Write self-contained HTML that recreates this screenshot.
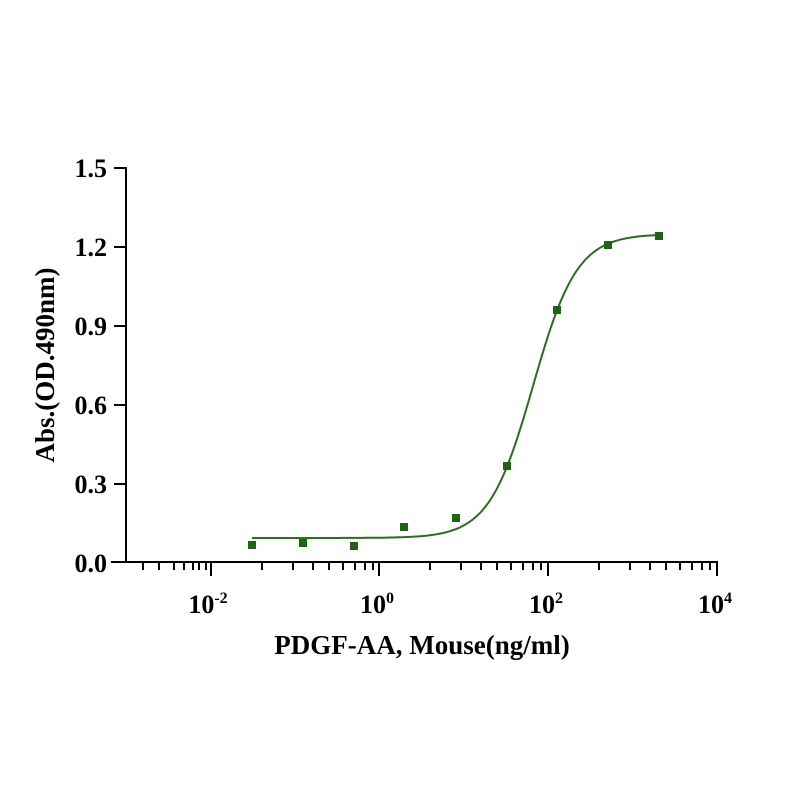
<!DOCTYPE html>
<html><head><meta charset="utf-8"><style>body{margin:0;background:#fff}</style></head>
<body>
<svg id="s" width="801" height="801" xmlns="http://www.w3.org/2000/svg" font-family="Liberation Serif, serif" font-weight="bold">
<g stroke="#000" stroke-width="2">
<line x1="126" y1="167" x2="126" y2="563"/>
<line x1="111" y1="562" x2="718" y2="562"/>
<line x1="114" y1="168" x2="126" y2="168"/>
<line x1="114" y1="247" x2="126" y2="247"/>
<line x1="114" y1="326" x2="126" y2="326"/>
<line x1="114" y1="405" x2="126" y2="405"/>
<line x1="114" y1="484" x2="126" y2="484"/>
</g>
<g id="ticks" stroke="#000" stroke-width="2"></g>
<g font-size="26" text-anchor="end">
<text x="107" y="177">1.5</text>
<text x="107" y="256">1.2</text>
<text x="107" y="335">0.9</text>
<text x="107" y="414">0.6</text>
<text x="107" y="493">0.3</text>
<text x="107" y="572">0.0</text>
</g>
<g font-size="26" text-anchor="middle">
<text x="208" y="613">10<tspan font-size="16" dy="-10">-2</tspan></text>
<text x="377" y="613">10<tspan font-size="16" dy="-10">0</tspan></text>
<text x="546" y="613">10<tspan font-size="16" dy="-10">2</tspan></text>
<text x="715" y="613">10<tspan font-size="16" dy="-10">4</tspan></text>
</g>
<text x="422" y="654" font-size="27" text-anchor="middle">PDGF-AA, Mouse(ng/ml)</text>
<text transform="translate(54,365) rotate(-90)" font-size="27" text-anchor="middle">Abs.(OD.490nm)</text>
<path id="c" fill="none" stroke="#2a6e1e" stroke-width="2"/>
<g fill="#1e6414" id="pts"></g>
</svg>
<script>
var t=document.getElementById('ticks'),h='';
var majors=[211,379,548,717];
majors.forEach(function(x){h+='<line x1="'+x+'" y1="562" x2="'+x+'" y2="576"/>';});
var m1=[143,159,174,184,193,199,206],m2=[262,293,313,329,343,355,365,373];
m1.forEach(function(x){h+='<line x1="'+x+'" y1="562" x2="'+x+'" y2="570"/>';});
[0,168,337].forEach(function(o){m2.forEach(function(x){if(x+o<718)h+='<line x1="'+(x+o)+'" y1="562" x2="'+(x+o)+'" y2="570"/>';});});
t.innerHTML=h;
var d='';for(var x=252;x<=659;x+=2){var y=538-304/(1+Math.exp(-(x-533)/22));d+=(x==252?'M':'L')+x+','+y.toFixed(1);}
document.getElementById('c').setAttribute('d',d);
var p=[[252,545],[303,543],[354,546],[404,527],[456,518],[507,466],[557,310],[608,245],[659,236]],s='';
p.forEach(function(q){s+='<rect x="'+(q[0]-4)+'" y="'+(q[1]-4)+'" width="8" height="8"/>';});
document.getElementById('pts').innerHTML=s;
</script>
</body></html>
